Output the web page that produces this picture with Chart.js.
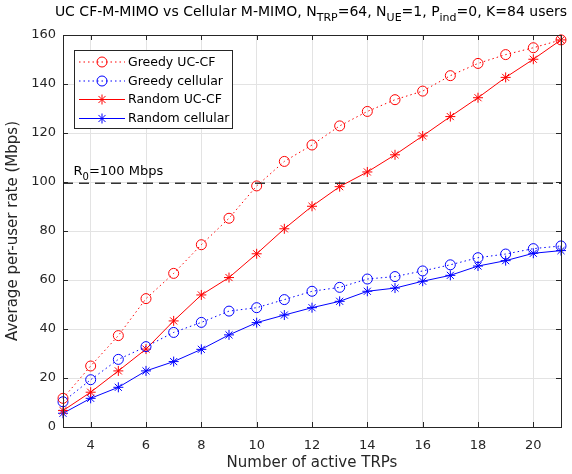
<!DOCTYPE html>
<html><head><meta charset="utf-8">
<script src="https://cdn.jsdelivr.net/npm/chart.js@4/dist/chart.umd.min.js"></script>
<style>html,body{margin:0;padding:0;background:#fff;}canvas{display:block}</style>
</head><body>
<canvas id="c" width="572" height="474"></canvas>
<script>
const xValues = [3,4,5,6,7,8,9,10,11,12,13,14,15,16,17,18,19,20,21];
const greedyUCCF = [11.7,24.9,37.3,52.4,62.7,74.4,85.2,98.4,108.4,115.1,122.9,128.8,133.6,137.1,143.4,148.4,152.0,154.8,158.0];
const greedyCellular = [10.3,19.3,27.6,32.8,38.6,42.7,47.3,48.7,52.0,55.4,57.0,60.4,61.4,63.7,66.2,69.1,70.6,72.8,73.9];
const randomUCCF = [6.7,14.2,22.9,31.8,43.3,53.9,61.0,70.7,80.9,90.1,98.1,104.1,111.1,118.8,126.7,134.4,142.7,150.1,158.0];
const randomCellular = [5.6,11.7,16.2,22.9,26.7,31.7,37.6,42.6,45.7,48.7,51.3,55.4,56.7,59.5,61.9,65.7,67.9,70.9,72.0];
const r0Level = 99.5;
const xTicks = [4,6,8,10,12,14,16,18,20];
const yTicks = [0,20,40,60,80,100,120,140,160];
const seriesLabels = ['Greedy UC-CF','Greedy cellular','Random UC-CF','Random cellular'];

const FONT = '"DejaVu Sans", Verdana, sans-serif';
const AXC = '#262626';
const RED = 'rgb(255,0,0)';
const BLUE = 'rgb(0,0,255)';

function pts(arr){ return xValues.map((x,i)=>({x:x, y:arr[i]})); }

const styles = [
  {data: greedyUCCF, color: RED, dash:[1.5,3], marker:'circle'},
  {data: greedyCellular, color: BLUE, dash:[1.5,3], marker:'circle'},
  {data: randomUCCF, color: RED, dash:[], marker:'star'},
  {data: randomCellular, color: BLUE, dash:[], marker:'star'}
];

const datasets = styles.map((s,i)=>({
  label: seriesLabels[i],
  data: pts(s.data),
  borderColor: s.color,
  backgroundColor: 'transparent',
  borderWidth: 1,
  borderDash: s.dash,
  pointStyle: s.marker,
  pointRadius: 5,
  pointBorderWidth: 1,
  pointBorderColor: s.color,
  pointBackgroundColor: 'transparent',
  tension: 0,
  clip: false
}));
datasets.unshift({
  label: 'R0',
  data: [{x: xValues[0], y: r0Level},{x: xValues[xValues.length-1], y: r0Level}],
  borderColor: '#333333',
  borderWidth: 1.5,
  borderDash: [10,6],
  pointRadius: 0,
  clip: false
});

function drawMarker(ctx, type, x, y, r, color){
  ctx.save();
  ctx.strokeStyle = color; ctx.lineWidth = 1; ctx.setLineDash([]);
  ctx.beginPath();
  if (type === 'circle') {
    ctx.arc(x, y, r, 0, Math.PI*2);
  } else {
    const d = r*Math.SQRT1_2;
    ctx.moveTo(x-r,y); ctx.lineTo(x+r,y);
    ctx.moveTo(x,y-r); ctx.lineTo(x,y+r);
    ctx.moveTo(x-d,y-d); ctx.lineTo(x+d,y+d);
    ctx.moveTo(x-d,y+d); ctx.lineTo(x+d,y-d);
  }
  ctx.stroke();
  ctx.restore();
}

function drawSubText(ctx, parts, x, y, align, size){
  const mainF = size + 'px ' + FONT;
  const subF = Math.round(size*0.78) + 'px ' + FONT;
  let w = 0;
  parts.forEach(p=>{ ctx.font = p[1]?subF:mainF; w += ctx.measureText(p[0]).width; });
  let cx = align === 'center' ? x - w/2 : x;
  ctx.textAlign = 'left'; ctx.textBaseline = 'alphabetic';
  parts.forEach(p=>{
    ctx.font = p[1]?subF:mainF;
    ctx.fillText(p[0], cx, p[1] ? y + size*0.35 : y);
    cx += ctx.measureText(p[0]).width;
  });
}

const decor = {
  id: 'decor',
  afterDraw(chart){
    const ctx = chart.ctx;
    const a = chart.chartArea;
    const xs = chart.scales.x, ys = chart.scales.y;
    ctx.save();
    ctx.strokeStyle = AXC; ctx.lineWidth = 1; ctx.setLineDash([]);
    ctx.strokeRect(Math.round(a.left)+0.5, Math.round(a.top)+0.5, Math.round(a.right-a.left), Math.round(a.bottom-a.top));
    ctx.beginPath();
    xTicks.forEach(v=>{
      const px = Math.round(xs.getPixelForValue(v))+0.5;
      ctx.moveTo(px, a.bottom); ctx.lineTo(px, a.bottom-5);
      ctx.moveTo(px, a.top); ctx.lineTo(px, a.top+5);
    });
    yTicks.forEach(v=>{
      const py = Math.round(ys.getPixelForValue(v))+0.5;
      ctx.moveTo(a.left, py); ctx.lineTo(a.left+5, py);
      ctx.moveTo(a.right, py); ctx.lineTo(a.right-5, py);
    });
    ctx.stroke();
    ctx.fillStyle = '#000';
    drawSubText(ctx, [['UC CF-M-MIMO vs Cellular M-MIMO, N',0],['TRP',1],['=64, N',0],['UE',1],['=1, P',0],['ind',1],['=0, K=84 users',0]], 311, 16, 'center', 14);
    drawSubText(ctx, [['R',0],['0',1],['=100 Mbps',0]], xs.getPixelForValue(3.38), ys.getPixelForValue(r0Level)-8, 'left', 13);
    const lx = 74.5, ly = 50.5, lw = 158, lh = 78;
    ctx.fillStyle = '#fff';
    ctx.fillRect(lx, ly, lw, lh);
    ctx.strokeStyle = AXC; ctx.lineWidth = 1;
    ctx.strokeRect(lx, ly, lw, lh);
    const rows = [62, 81, 99.5, 118.5];
    styles.forEach((s,i)=>{
      const y = rows[i];
      ctx.save();
      ctx.strokeStyle = s.color; ctx.lineWidth = 1; ctx.setLineDash(s.dash);
      ctx.beginPath(); ctx.moveTo(79, y); ctx.lineTo(125, y); ctx.stroke();
      ctx.restore();
      drawMarker(ctx, s.marker, 102, y, 5, s.color);
      ctx.fillStyle = '#000';
      ctx.font = '12.5px ' + FONT;
      ctx.textAlign = 'left'; ctx.textBaseline = 'middle';
      ctx.fillText(seriesLabels[i], 128, y+0.5);
    });
    ctx.restore();
  }
};

new Chart(document.getElementById('c'), {
  type: 'line',
  data: { datasets },
  plugins: [decor],
  options: {
    responsive: false,
    animation: false,
    devicePixelRatio: 1,
    layout: { padding: { top: 35, right: 11, left: 0, bottom: 0 } },
    plugins: { legend: { display: false }, tooltip: { enabled: false }, title: { display: false } },
    scales: {
      x: {
        type: 'linear', min: 3, max: 21,
        afterBuildTicks: s => { s.ticks = xTicks.map(v=>({value:v})); },
        afterFit: s => { s.height = 47; },
        ticks: { color: AXC, font: { family: FONT, size: 13 }, padding: 11, maxRotation: 0 },
        grid: { color: '#e3e3e3', drawTicks: false, lineWidth: 1 },
        border: { display: true, color: AXC },
        title: { display: true, text: 'Number of active TRPs', color: AXC, font: { family: FONT, size: 15 }, padding: { top: 0, bottom: 2 } }
      },
      y: {
        type: 'linear', min: 0, max: 160,
        afterBuildTicks: s => { s.ticks = yTicks.map(v=>({value:v})); },
        afterFit: s => { s.width = 63; },
        ticks: { color: AXC, font: { family: FONT, size: 13 }, padding: 7 },
        grid: { color: '#e3e3e3', drawTicks: false, lineWidth: 1 },
        border: { display: true, color: AXC },
        title: { display: true, text: 'Average per-user rate (Mbps)', color: AXC, font: { family: FONT, size: 15 }, padding: { top: 4, bottom: 0 } }
      }
    }
  }
});
</script>
</body></html>
